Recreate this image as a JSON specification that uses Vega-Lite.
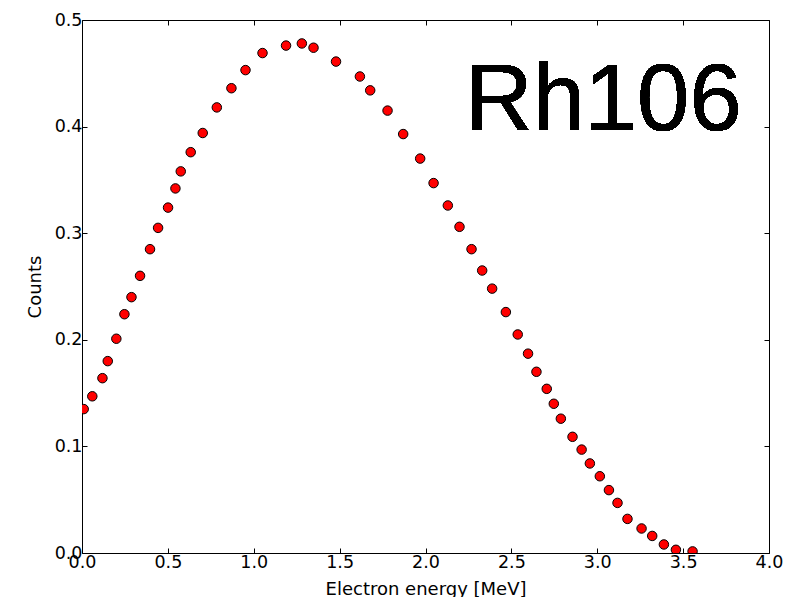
{
  "$schema": "https://vega.github.io/schema/vega-lite/v6.json",
  "autosize": "none",
  "width": 687,
  "height": 533,
  "padding": {"left": 82, "top": 20, "right": 41, "bottom": 44},
  "background": "white",
  "config": {
    "view": {"stroke": "black", "strokeWidth": 1},
    "axis": {
      "grid": false,
      "domain": false,
      "tickColor": "black",
      "tickSize": -5,
      "labelFlush": false,
      "labelFont": "DejaVu Sans",
      "labelFontSize": 17.5,
      "labelColor": "black",
      "titleFont": "DejaVu Sans",
      "titleFontSize": 18,
      "titleFontWeight": "normal",
      "titleColor": "black"
    }
  },
  "data": {
    "values": [
      {"energy": 0.01, "counts": 0.135},
      {"energy": 0.06, "counts": 0.147},
      {"energy": 0.119, "counts": 0.164},
      {"energy": 0.15, "counts": 0.18},
      {"energy": 0.2, "counts": 0.201},
      {"energy": 0.247, "counts": 0.224},
      {"energy": 0.288, "counts": 0.24},
      {"energy": 0.338, "counts": 0.26},
      {"energy": 0.396, "counts": 0.285},
      {"energy": 0.443, "counts": 0.305},
      {"energy": 0.501, "counts": 0.324},
      {"energy": 0.544, "counts": 0.342},
      {"energy": 0.575, "counts": 0.358},
      {"energy": 0.633, "counts": 0.376},
      {"energy": 0.703, "counts": 0.394},
      {"energy": 0.785, "counts": 0.418},
      {"energy": 0.87, "counts": 0.436},
      {"energy": 0.952, "counts": 0.453},
      {"energy": 1.051, "counts": 0.469},
      {"energy": 1.188, "counts": 0.476},
      {"energy": 1.28, "counts": 0.478},
      {"energy": 1.348, "counts": 0.474},
      {"energy": 1.479, "counts": 0.461},
      {"energy": 1.618, "counts": 0.447},
      {"energy": 1.678, "counts": 0.434},
      {"energy": 1.779, "counts": 0.415},
      {"energy": 1.87, "counts": 0.393},
      {"energy": 1.969, "counts": 0.37},
      {"energy": 2.047, "counts": 0.347},
      {"energy": 2.13, "counts": 0.326},
      {"energy": 2.198, "counts": 0.306},
      {"energy": 2.268, "counts": 0.285},
      {"energy": 2.33, "counts": 0.265},
      {"energy": 2.388, "counts": 0.248},
      {"energy": 2.468, "counts": 0.226},
      {"energy": 2.537, "counts": 0.205},
      {"energy": 2.597, "counts": 0.187},
      {"energy": 2.646, "counts": 0.17},
      {"energy": 2.706, "counts": 0.154},
      {"energy": 2.747, "counts": 0.14},
      {"energy": 2.788, "counts": 0.126},
      {"energy": 2.856, "counts": 0.109},
      {"energy": 2.909, "counts": 0.097},
      {"energy": 2.957, "counts": 0.084},
      {"energy": 3.015, "counts": 0.072},
      {"energy": 3.068, "counts": 0.059},
      {"energy": 3.118, "counts": 0.047},
      {"energy": 3.176, "counts": 0.032},
      {"energy": 3.258, "counts": 0.023},
      {"energy": 3.32, "counts": 0.016},
      {"energy": 3.388, "counts": 0.008},
      {"energy": 3.458, "counts": 0.003},
      {"energy": 3.555, "counts": 0.0015}
    ]
  },
  "layer": [
    {
      "layer": [
        {
          "mark": {"type": "point", "filled": true, "shape": "circle", "size": 90, "fill": "#ff0000", "stroke": "black", "strokeWidth": 1, "opacity": 1, "clip": true},
          "encoding": {
            "x": {"field": "energy", "type": "quantitative", "scale": {"domain": [0, 4], "nice": false, "zero": false},
              "axis": {"orient": "bottom", "values": [0, 0.5, 1, 1.5, 2, 2.5, 3, 3.5, 4], "format": ".1f", "title": "Electron energy [MeV]", "labelPadding": 5, "titlePadding": 10}},
            "y": {"field": "counts", "type": "quantitative", "scale": {"domain": [0, 0.5], "nice": false, "zero": false},
              "axis": {"orient": "left", "values": [0, 0.1, 0.2, 0.3, 0.4, 0.5], "format": ".1f", "title": "Counts", "labelPadding": 5, "titlePadding": 10}}
          }
        },
        {
          "mark": {"type": "text", "text": "Rh106", "font": "Liberation Sans", "fontSize": 94, "align": "left", "baseline": "alphabetic", "color": "black"},
          "encoding": {
            "x": {"datum": 2.228, "type": "quantitative"},
            "y": {"datum": 0.397, "type": "quantitative"}
          }
        }
      ]
    },
    {
      "mark": {"type": "point", "opacity": 0},
      "encoding": {
        "x": {"field": "energy", "type": "quantitative", "scale": {"domain": [0, 4], "nice": false, "zero": false},
          "axis": {"orient": "top", "values": [0, 0.5, 1, 1.5, 2, 2.5, 3, 3.5, 4], "labels": false, "title": null}},
        "y": {"field": "counts", "type": "quantitative", "scale": {"domain": [0, 0.5], "nice": false, "zero": false},
          "axis": {"orient": "right", "values": [0, 0.1, 0.2, 0.3, 0.4, 0.5], "labels": false, "title": null}}
      }
    }
  ],
  "resolve": {"scale": {"x": "independent", "y": "independent"}, "axis": {"x": "independent", "y": "independent"}}
}
